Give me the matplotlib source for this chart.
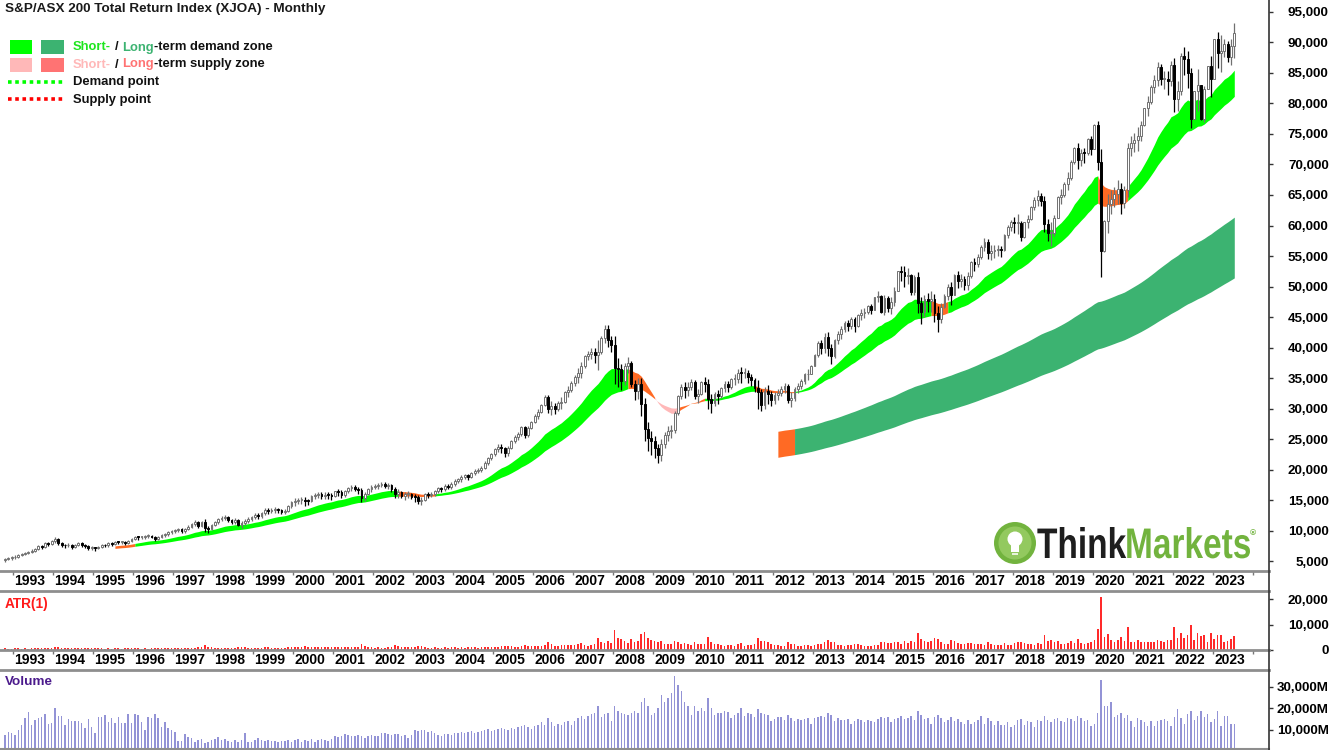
import numpy as np
import pandas as pd
import matplotlib
matplotlib.use('Agg')
import matplotlib.pyplot as plt
from matplotlib.patches import Rectangle, Circle, PathPatch
from matplotlib.textpath import TextPath
from matplotlib.font_manager import FontProperties
from matplotlib.transforms import Affine2D
import matplotlib.ticker as mticker

plt.rcParams['font.family'] = ['Liberation Sans', 'DejaVu Sans']
plt.rcParams['font.weight'] = 'bold'

# Monthly closes, Oct 1992 .. Jul 2023
closes = [
    5250, 5450, 5600,
    5700, 6000, 6200, 6350, 6500, 6700, 7000, 7400, 7350, 7900, 7800, 8350,
    8550, 8000, 7600, 7550, 7700, 7300, 7600, 7900, 7550, 7450, 7100, 7150,
    7100, 7350, 7650, 7550, 7900, 7750, 8150, 8100, 8100, 7900, 8250, 8600,
    8950, 8900, 8900, 9150, 9150, 8950, 8600, 9000, 9200, 9400, 9700, 9900,
    10100, 10200, 9900, 10250, 10650, 11100, 11400, 10800, 11450, 10400, 10250, 10950,
    11350, 11850, 12050, 12200, 11650, 11450, 11800, 10950, 11150, 11600, 11900, 12200,
    12600, 12300, 12900, 13400, 13200, 13350, 13500, 13300, 13050, 13200, 14000, 14650,
    14800, 15000, 15050, 14850, 14800, 15700, 15800, 16000, 15700, 15900, 15800, 15600,
    16400, 16350, 15750, 16400, 16900, 17200, 16800, 16650, 15250, 16050, 16750, 17200,
    17300, 17450, 17700, 17300, 17400, 16750, 15950, 16350, 15600, 15950, 16000, 15550,
    15500, 14800, 15000, 15950, 15850, 16000, 16450, 16900, 16800, 17350, 17100, 17700,
    18100, 18400, 18800, 19050, 18750, 19500, 19750, 19950, 20300, 21100, 21850, 22550,
    23350, 23700, 23450, 22650, 23550, 24650, 25400, 25750, 26900, 25700, 26800, 27850,
    28850, 29400, 30650, 31900, 29950, 30400, 29950, 30900, 31100, 32700, 33050, 34250,
    35100, 35900, 36900, 38600, 38900, 39200, 38750, 39200, 41600, 43000, 41300, 40450,
    36700, 36500, 34500, 36900, 37500, 34000, 32800, 34000, 30700, 26700, 25100, 24600,
    23500, 22450, 24100, 25650, 26350, 26400, 29300, 32000, 33600, 33100, 33600, 34400,
    32000, 32400, 34400, 34000, 31500, 30900, 32300, 32000, 33300, 34000, 33500, 34800,
    34900, 35900, 35850, 35900, 35100, 34700, 33300, 32650, 30550, 32950, 32350, 31400,
    32150, 32600, 33200, 33750, 31450, 31700, 33150, 33750, 34450, 35600, 35700, 37000,
    38800, 40750, 39850, 41800, 39900, 38600, 41200, 42150, 43000, 44000, 43600, 44600,
    43450, 45400, 45650, 45750, 46800, 46200, 48350, 48500, 45850, 48150, 46400, 47500,
    49300, 52500, 52350, 51700, 51850, 49150, 51550, 47300, 45750, 47950, 47550, 47900,
    45600, 44700, 46700, 48450, 49850, 48650, 51950, 50950, 51250, 50300, 51650, 54000,
    53750, 54800, 56500, 57300, 55550, 55750, 56000, 56100, 56000, 58500, 59700, 60500,
    60450, 60450, 58050, 60500, 61050, 63100, 64250, 64900, 64000, 60300, 58850, 58850,
    61250, 64700, 65050, 66850, 67850, 70400, 72700, 70700, 71900, 71850, 74150, 72550,
    76500, 70400, 55750, 60750, 63600, 64300, 65200, 66000, 63700, 65800, 72700, 73500,
    74000, 74600, 76500, 79200, 80300, 82700, 83900, 86000, 84000, 84000, 83700, 86300,
    80800, 82000, 87800, 87300, 85000, 77500, 82000, 83000, 77500, 82300, 86200, 84000,
    90500, 88300, 88600, 89800, 87600, 89500, 91500,
]
first_open = 5150

# ATR(1): monthly true range
true_range = [
    600, 500, 550,
    600, 650, 550, 600, 550, 650, 700, 800, 650, 900, 700, 900,
    1000, 1100, 900, 700, 650, 800, 650, 700, 800, 650, 700, 600,
    650, 600, 650, 550, 700, 550, 750, 600, 550, 650, 700, 650,
    700, 650, 550, 650, 550, 600, 750, 750, 650, 600, 700, 650,
    700, 700, 750, 800, 800, 850, 950, 1100, 1000, 2100, 1100, 1000,
    900, 900, 800, 800, 950, 900, 900, 1300, 1100, 1000, 900, 850,
    900, 900, 950, 1100, 1000, 900, 950, 950, 900, 900, 1100, 1100,
    1200, 1100, 1100, 1400, 1100, 1200, 1000, 1000, 1000, 1100, 1100, 1050,
    1100, 1100, 1300, 1200, 1100, 1000, 1000, 1100, 2200, 1500, 1200, 1200,
    900, 1000, 900, 900, 1000, 1200, 1800, 1500, 1200, 1300, 1100, 1100,
    1200, 1500, 1400, 1300, 900, 900, 1000, 900, 900, 1000, 800, 1000,
    1000, 900, 1100, 900, 1100, 1000, 1000, 900, 1000, 1300, 1300, 1100,
    1300, 1300, 1400, 1700, 1600, 1400, 1200, 1300, 1500, 2000, 1700, 1400,
    1400, 1600, 1600, 1800, 3000, 2300, 1700, 1700, 1900, 2000, 1800, 1800,
    1800, 2400, 2700, 2100, 1500, 1800, 2500, 4800, 3000, 2900, 3600, 2600,
    7900, 4800, 4200, 3600, 2600, 4300, 3300, 3400, 6200, 7100, 4900, 3900,
    3600, 3200, 3500, 2500, 2400, 2200, 3600, 3300, 2400, 2600, 2300, 1900,
    3200, 2300, 2300, 2400, 5000, 3200, 2400, 2200, 1900, 1700, 1800, 1800,
    1700, 2400, 2700, 1600, 2100, 2000, 2300, 4800, 3500, 3600, 3200, 2400,
    2000, 1900, 1600, 1600, 3100, 2400, 2300, 1600, 1600, 1800, 1800, 1500,
    2000, 2500, 2200, 3200, 4000, 3200, 3200, 2100, 2100, 1700, 1900, 2000,
    2500, 2200, 1900, 1600, 1500, 1700, 2100, 1800, 3000, 3200, 2700, 2900,
    3200, 3300, 2500, 3400, 2600, 3500, 3300, 6700, 4500, 3600, 3000, 3500,
    4600, 4200, 3300, 2300, 2500, 3900, 3500, 2900, 2200, 2400, 2900, 2900,
    2200, 2200, 2300, 2100, 3300, 2500, 2100, 1800, 1800, 2700, 2100, 1800,
    2600, 3300, 3300, 2700, 2200, 2400, 2100, 2700, 2200, 5900, 3600, 3900,
    3300, 3600, 2500, 2400, 2900, 3400, 2800, 4200, 2800, 2500, 2800, 3100,
    4100, 8100, 21000, 5200, 6500, 3900, 3300, 3900, 5000, 3700, 8900, 3300,
    3000, 3900, 3300, 3000, 3300, 3200, 3000, 4000, 3500, 3000, 3900, 4000,
    8900, 4800, 6800, 4600, 6000, 9800, 4100, 6800, 5700, 5900, 3200, 6800,
    4400, 5900, 6100, 3000, 3400, 4200, 5600,
]

# Volume, millions
volume_m = [
    7700, 9200, 8700,
    7700, 10000, 12300, 15400, 18500, 12300, 14600, 15400, 16100, 17400, 12800, 13100,
    20000, 16500, 16500, 12300, 14900, 14300, 14000, 14300, 13100, 10800, 14900, 11500,
    8500, 16100, 16100, 16900, 13800, 15400, 13100, 16100, 13100, 13100, 17200, 13100,
    17200, 16900, 13800, 10000, 16100, 15400, 17400, 15400, 11500, 13800, 10800, 10000,
    9200, 5000, 5000, 8200, 6700, 6200, 4600, 5400, 5700, 4200, 4600, 5400,
    5700, 6700, 5400, 5700, 5000, 4600, 5400, 4600, 5400, 8700, 4300, 4600,
    5400, 6200, 5400, 5000, 5400, 5100, 5000, 4600, 5100, 5000, 5400, 4500,
    5400, 5700, 4600, 5400, 5000, 5700, 4600, 5400, 5700, 5400, 4800, 5700,
    7000, 6700, 7300, 8100, 7700, 7000, 7300, 7700, 7000, 6200, 7300, 7700,
    7000, 7300, 8800, 8500, 8100, 7700, 8200, 8200, 7000, 7700, 6200, 7700,
    10000, 9500, 10000, 10000, 9200, 9700, 8800, 7700, 7300, 8000, 8200, 7800,
    8500, 8800, 9200, 8800, 9000, 9500, 8800, 9000, 9500, 10000, 10500, 9500,
    10000, 10500, 11000, 10500, 10000, 11000, 10500, 11500, 12000, 12500, 11500, 10500,
    12000, 12500, 13500, 12500, 15500, 13500, 12000, 13000, 12500, 13500, 14000, 12500,
    14000, 15500, 16500, 15000, 16500, 17500, 18000, 21000, 16000, 17500, 18000, 14000,
    21000, 19000, 18000, 17500, 17000, 18000, 19000, 18000, 23000, 25000, 21000, 17000,
    18000, 20000, 26000, 23000, 25000, 27000, 35000, 31000, 28000, 23000, 21000, 17000,
    21000, 19000, 20000, 19000, 25000, 20000, 17000, 18000, 18000, 19000, 18500, 15500,
    17000, 18000, 20000, 16500, 18000, 17500, 16000, 19500, 18000, 17500, 17000, 14000,
    15000, 16000, 16000, 14500, 17000, 15500, 14000, 15000, 14500, 15000, 15500, 13000,
    15500, 16000, 16500, 16000, 18000, 17000, 14000, 15500, 14500, 14500, 15000, 13000,
    14000, 15000, 14500, 13500, 14500, 14000, 13500, 15000, 16000, 15500, 16000, 13500,
    15000, 15500, 16500, 15000, 15500, 16500, 14500, 19000, 17000, 15000, 15500, 13000,
    16000, 17000, 15500, 13500, 14500, 16000, 14000, 15000, 13500, 13000, 14500, 13000,
    13500, 14500, 16500, 13000, 15500, 14000, 12500, 14000, 12500, 12500, 13500, 11500,
    12500, 14500, 15000, 12500, 14000, 13500, 11500, 14500, 14000, 16500, 14500, 13500,
    15000, 15500, 14000, 13500, 15500, 15000, 14000, 16500, 15500, 14000, 14500, 12000,
    13000, 18000, 33000, 21000, 21000, 23000, 16000, 17000, 18000, 15500, 17000, 14000,
    11500, 15500, 14500, 13500, 12000, 14000, 12000, 14000, 14500, 15000, 14000, 12000,
    16000, 19500, 15500, 13000, 17500, 19000, 14500, 16500, 19000, 16000, 17500, 13500,
    15000, 19000, 12000, 16500, 16500, 13000, 13000,
]

# zone colouring (decimal years)
orange_spans = [(1995.5, 1996.0), (2002.58, 2003.46), (2008.33, 2008.98),
                (2009.55, 2010.26), (2011.54, 2012.46), (2015.92, 2016.33),
                (2020.12, 2020.8)]
pink_spans = [(2008.98, 2009.55)]
short_start = 1995.5
long_start = 2012.1
long_orange_end = 2012.54

C_GREEN = '#00ff00'
C_DKGREEN = '#3cb371'
C_ORANGE = '#ff6a24'
C_PINK = '#ffb8b8'
C_SALMON = '#ff7373'
C_GREY = '#8e8e8e'

months = pd.date_range('1992-10-01', periods=len(closes), freq='MS')
t = np.asarray(months.year + (months.month - 0.5) / 12.0)
c = np.array(closes, dtype=float)
o = np.r_[first_open, c[:-1]]
tr = np.array(true_range, dtype=float)
vol = np.array(volume_m, dtype=float)

up = c >= o
top = np.maximum(o, c)
bot = np.minimum(o, c)
extra = np.maximum(tr - (top - bot), 0)
frac = np.where(up, 0.45, 0.35)
high = top + extra * frac
low = bot - extra * (1 - frac)

s = pd.Series(c)
st_fast = s.ewm(span=20, adjust=False).mean().values
st_slow = s.ewm(span=38, adjust=False).mean().values
lt_fast = s.ewm(span=150, adjust=False).mean().values
lt_slow = s.ewm(span=240, adjust=False).mean().values

W, H = 1332, 750
fig = plt.figure(figsize=(W / 100, H / 100), dpi=100)
right = 1269 / W
ax = fig.add_axes([0, 1 - 571 / H, right, 571 / H])
ax_atr = fig.add_axes([0, 1 - 650 / H, right, 59 / H])
ax_vol = fig.add_axes([0, 1 - 749 / H, right, 79 / H])

x0, x1 = 1992.667, 2024.41


def fill_runs(axis, tt, a, b, cols):
    # fill contiguous runs of the same colour
    i = 0
    n = len(tt)
    while i < n:
        j = i
        while j + 1 < n and cols[j + 1] == cols[i]:
            j += 1
        k = min(j + 1, n - 1)
        axis.fill_between(tt[i:k + 1], a[i:k + 1], b[i:k + 1], color=cols[i],
                          linewidth=0, zorder=1)
        i = j + 1


# long-term zone
m = t >= long_start
cols = [C_ORANGE if x < long_orange_end else C_DKGREEN for x in t[m]]
fill_runs(ax, t[m], lt_fast[m], lt_slow[m], cols)

# short-term zone
m = t >= short_start
cols = []
for x in t[m]:
    col = C_GREEN
    for a, b in orange_spans:
        if a <= x < b:
            col = C_ORANGE
    for a, b in pink_spans:
        if a <= x < b:
            col = C_PINK
    cols.append(col)
fill_runs(ax, t[m], st_fast[m], st_slow[m], cols)

# candles
bw = 0.55 / 12
edge = np.where(up, '#707070', '#000000')
ax.vlines(t, low, high, colors=edge, linewidth=0.9, zorder=3)
bh = np.maximum(top - bot, 120)
ax.bar(t, bh, bottom=bot, width=bw, color=np.where(up, 'white', 'black'),
       edgecolor=edge, linewidth=0.7, zorder=4)

ax.set_xlim(x0, x1)
ax.set_ylim(3361, 96967)

# ATR
ax_atr.bar(t, tr, width=0.5 / 12, color='#ff2a2a', linewidth=0)
ax_atr.set_xlim(x0, x1)
ax_atr.set_ylim(0, 23300)

# Volume
ax_vol.bar(t, vol, width=0.45 / 12, color='#9393d6', linewidth=0)
ax_vol.set_xlim(x0, x1)
ax_vol.set_ylim(1224, 37710)

years = np.arange(1993, 2025)
label_years = np.arange(1993, 2024)
for a in (ax, ax_atr, ax_vol):
    for sp in a.spines.values():
        sp.set_visible(False)
    a.set_facecolor('none')
    a.yaxis.tick_right()
    a.tick_params(axis='y', length=3, width=1, color='#333333', pad=40,
                  labelsize=9.6)
    a.xaxis.set_major_locator(mticker.FixedLocator(years))
    a.xaxis.set_minor_locator(mticker.FixedLocator(label_years + 0.42))
    a.tick_params(axis='x', which='major', length=3, width=1, color='#777777',
                  labelbottom=False)
    a.tick_params(axis='x', which='minor', length=0, pad=2.5, labelsize=10)

for a in (ax, ax_atr):
    a.xaxis.set_minor_formatter(mticker.FixedFormatter([str(y) for y in label_years]))
    a.spines['bottom'].set_visible(True)
    a.spines['bottom'].set_color(C_GREY)
    a.spines['bottom'].set_linewidth(2)
ax_vol.tick_params(axis='x', which='both', bottom=False, labelbottom=False)

for a in (ax_atr, ax_vol):
    a.spines['top'].set_visible(True)
    a.spines['top'].set_color(C_GREY)
    a.spines['top'].set_linewidth(2)
ax_vol.spines['bottom'].set_visible(True)
ax_vol.spines['bottom'].set_color(C_GREY)
ax_vol.spines['bottom'].set_linewidth(1.5)

ax.yaxis.set_major_locator(mticker.MultipleLocator(5000))
ax_atr.yaxis.set_major_locator(mticker.FixedLocator([0, 10000, 20000]))
ax_vol.yaxis.set_major_locator(mticker.FixedLocator([10000, 20000, 30000]))
comma = mticker.FuncFormatter(lambda v, p: f'{int(v):,}')
ax.yaxis.set_major_formatter(comma)
ax_atr.yaxis.set_major_formatter(comma)
ax_vol.yaxis.set_major_formatter(mticker.FuncFormatter(lambda v, p: f'{int(v):,}M'))
for a in (ax, ax_atr, ax_vol):
    for lab in a.get_yticklabels():
        lab.set_horizontalalignment('right')

# overlay in pixel coordinates for title, legend, logo
ov = fig.add_axes([0, 0, 1, 1], zorder=10)
ov.set_xlim(0, W)
ov.set_ylim(H, 0)
ov.axis('off')
ov.plot([1269, 1269], [0, H], color='#333333', lw=1.2, solid_capstyle='butt')

ov.text(5, 9, 'S&P/ASX 200 Total Return Index (XJOA) - Monthly', fontsize=9.7,
        fontweight='bold', color='#1a1a1a', va='center', ha='left')

renderer = fig.canvas.get_renderer()


def width_of(txt, size):
    tt = ov.text(0, 0, txt, fontsize=size, fontweight='bold')
    w = tt.get_window_extent(renderer).width
    tt.remove()
    return w


LS = 9.4
space = width_of('a a', LS) - width_of('aa', LS)


def pieces_line(x, y, pieces):
    for txt, col in pieces:
        if txt == ' ':
            x += space
            continue
        tt = ov.text(x, y, txt, fontsize=LS, fontweight='bold', color=col,
                     va='center', ha='left')
        x = tt.get_window_extent(renderer).x1


ov.add_patch(Rectangle((9.5, 40), 22.5, 14, color=C_GREEN, lw=0))
ov.add_patch(Rectangle((41, 40), 23, 14, color=C_DKGREEN, lw=0))
ov.add_patch(Rectangle((9.5, 57.5), 22.5, 14, color=C_PINK, lw=0))
ov.add_patch(Rectangle((41, 57.5), 23, 14, color=C_SALMON, lw=0))
pieces_line(73, 47.5, [('Short-', '#1ee61e'), (' ', None), ('/', '#111111'),
                       (' ', None), ('Long', C_DKGREEN),
                       ('-term demand zone', '#111111')])
pieces_line(73, 64.5, [('Short-', C_PINK), (' ', None), ('/', '#111111'),
                       (' ', None), ('Long', C_SALMON),
                       ('-term supply zone', '#111111')])
ov.plot([8, 63], [82, 82], color=C_GREEN, lw=2.6, linestyle=(0, (1, 1)))
ov.plot([8, 63], [99, 99], color='#ff0000', lw=2.6, linestyle=(0, (1, 1)))
ov.text(73, 82, 'Demand point', fontsize=LS, fontweight='bold', color='#111111',
        va='center', ha='left')
ov.text(73, 99.5, 'Supply point', fontsize=LS, fontweight='bold', color='#111111',
        va='center', ha='left')

# ThinkMarkets logo
logo_green = '#72b33e'
ov.add_patch(Circle((1015, 543), 21, color=logo_green, lw=0))
ov.add_patch(Circle((1015, 543), 16.5, color='#93c95f', lw=0))
ov.add_patch(Circle((1015, 539), 7.5, color='white', lw=0))
ov.add_patch(Rectangle((1011, 545), 8, 7, color='white', lw=0))
ov.add_patch(Rectangle((1012, 553), 6, 2, color='#e8f3dc', lw=0))

fp = FontProperties(family='Liberation Sans', weight='bold')
p_think = TextPath((0, 0), 'Think', size=100, prop=fp)
p_mark = TextPath((0, 0), 'Markets', size=100, prop=fp)
e1 = p_think.get_extents()
e2 = p_mark.get_extents()
gap = 3
total = e1.x1 + gap + (e2.x1 - e2.x0)
sx = 213.0 / total
sy = 31.0 / e1.y1
tr1 = Affine2D().scale(sx, -sy).translate(1037, 558) + ov.transData
tr2 = Affine2D().translate(e1.x1 + gap - e2.x0, 0).scale(sx, -sy).translate(1037, 558) + ov.transData
ov.add_patch(PathPatch(p_think, transform=tr1, color='#1e1e1e', lw=0))
ov.add_patch(PathPatch(p_mark, transform=tr2, color=logo_green, lw=0))
ov.text(1253, 534, '\u00ae', fontsize=6, color=logo_green, ha='center', va='center')

ov.text(5, 604, 'ATR(1)', fontsize=9.8, fontweight='bold', color='#ff1a1a',
        va='center', ha='left')
ov.text(5, 682, 'Volume', fontsize=9.7, fontweight='bold', color='#4b1a8c',
        va='center', ha='left')

fig.savefig('out.png', dpi=100)
